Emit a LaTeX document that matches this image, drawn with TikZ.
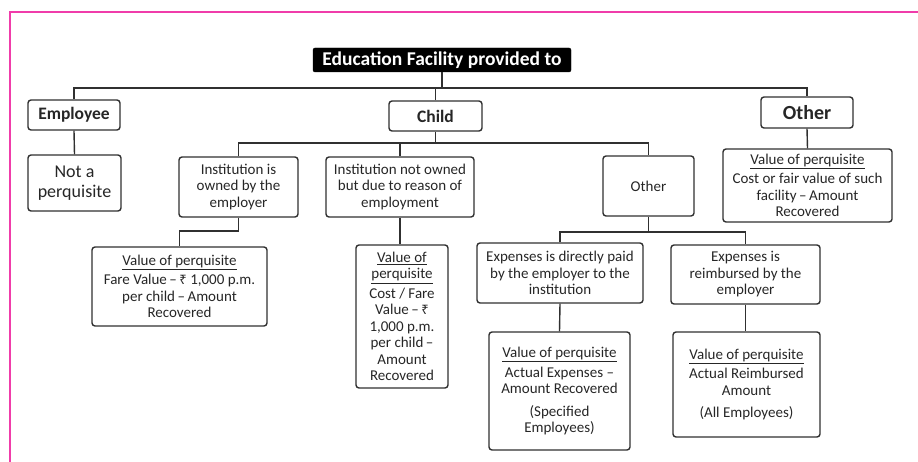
\documentclass[tikz,border=0pt]{standalone}
\usepackage{fontspec}
\setmainfont{Carlito}
\newfontfamily\rupeefont{Noto Sans}
\definecolor{lc}{HTML}{303030}
\definecolor{tc}{HTML}{262626}
\definecolor{pinkframe}{HTML}{F03CAA}
\newcommand{\rs}{{\rupeefont\fontsize{13}{15}\selectfont ₹}}
\newcommand{\vh}{\underline{Value of perquisite}}
\begin{document}
\begin{tikzpicture}[x=1pt,y=-1pt,
  box/.style={draw=lc, line width=1.4pt, rounded corners=3pt, align=center,
    inner sep=0pt, text=tc, font=\fontsize{15}{16.5}\selectfont},
  headbox/.style={box, font=\bfseries\fontsize{17.5}{19}\selectfont},
  titlebox/.style={fill=black, draw=black, rounded corners=2pt, text=white,
    inner sep=0pt, font=\bfseries\fontsize{19.5}{21}\selectfont},
  wire/.style={draw=lc, line width=1.4pt}]
\useasboundingbox (0,0) rectangle (918,462);
% frame
\draw[pinkframe, line width=2pt] (918,12) -- (9.5,12) -- (9.5,462);
% nodes
\node[titlebox, minimum width=258pt, minimum height=24pt] (title) at (442,60) {Education Facility provided to};
\node[headbox, minimum width=92pt, minimum height=30pt] (emp) at (74,115) {Employee};
\node[headbox, minimum width=93pt, minimum height=30pt] (child) at (435.5,116) {Child};
\node[box, font=\bfseries\fontsize{20}{22}\selectfont, minimum width=92pt, minimum height=31pt] (other) at (807,112.5) {Other};
\node[box, font=\fontsize{18}{19.5}\selectfont, minimum width=93pt, minimum height=56pt] (notp) at (74.5,183) {Not a\\perquisite};
\node[box, minimum width=119pt, minimum height=60pt] (own) at (238.5,187) {Institution is\\owned by the\\employer};
\node[box, minimum width=148pt, minimum height=60pt] (notown) at (400,187) {Institution not owned\\but due to reason of\\employment};
\node[box, minimum width=91pt, minimum height=60pt] (oth2) at (648.5,186) {Other};
\node[box, minimum width=175pt, minimum height=79pt] (val1) at (179.5,286.5) {\vh\\[3pt]Fare Value\,–\,\rs{} 1,000 p.m.\\per child\,–\,Amount\\Recovered};
\node[box, minimum width=92pt, minimum height=143pt] (val2) at (402,316.5) {\underline{Value of}\\\underline{perquisite}\\[3pt]Cost / Fare\\Value\,–\,\rs\\1,000 p.m.\\per child\,–\\Amount\\Recovered};
\node[box, minimum width=166pt, minimum height=60pt] (direct) at (560,273) {Expenses is directly paid\\by the employer to the\\institution};
\node[box, minimum width=149pt, minimum height=59pt] (reimb) at (745.5,274.5) {Expenses is\\reimbursed by the\\employer};
\node[box, minimum width=141pt, minimum height=118pt] (val3) at (559.5,391) {\vh\\[3pt]Actual Expenses –\\Amount Recovered\\[6pt](Specified\\Employees)};
\node[box, minimum width=147pt, minimum height=105pt] (val4) at (746.5,384.5) {\vh\\[3pt]Actual Reimbursed\\Amount\\[6pt](All Employees)};
\node[box, minimum width=169pt, minimum height=73pt] (val5) at (807.5,185.5) {\vh\\[3pt]Cost or fair value of such\\facility\,–\,Amount\\Recovered};
% bus coordinates
\coordinate (bus1) at (442,88);
\coordinate (bus2) at (435.5,143);
\coordinate (bus3) at (648.5,232);
\coordinate (bend1) at (238.5,231);
% connectors
\draw[wire] (title.south) -- (bus1);
\draw[wire] (emp.north) |- (bus1) -| (other.north);
\draw[wire] (child.north) -- (child.north |- bus1);
\draw[wire] (emp.south) -- (notp.north);
\draw[wire] (child.south) -- (bus2);
\draw[wire] (own.north) |- (bus2) -| (oth2.north);
\draw[wire] (notown.north) -- (notown.north |- bus2);
\draw[wire] (own.south) -- (bend1) -| (val1.north);
\draw[wire] (notown.south) -- (notown.south |- val2.north);
\draw[wire] (oth2.south) -- (bus3);
\draw[wire] (direct.north) |- (bus3) -| (reimb.north);
\draw[wire] (direct.south) -- (val3.north);
\draw[wire] (reimb.south) -- (reimb.south |- val4.north);
\draw[wire] (other.south) -- (val5.north);
\end{tikzpicture}
\end{document}
